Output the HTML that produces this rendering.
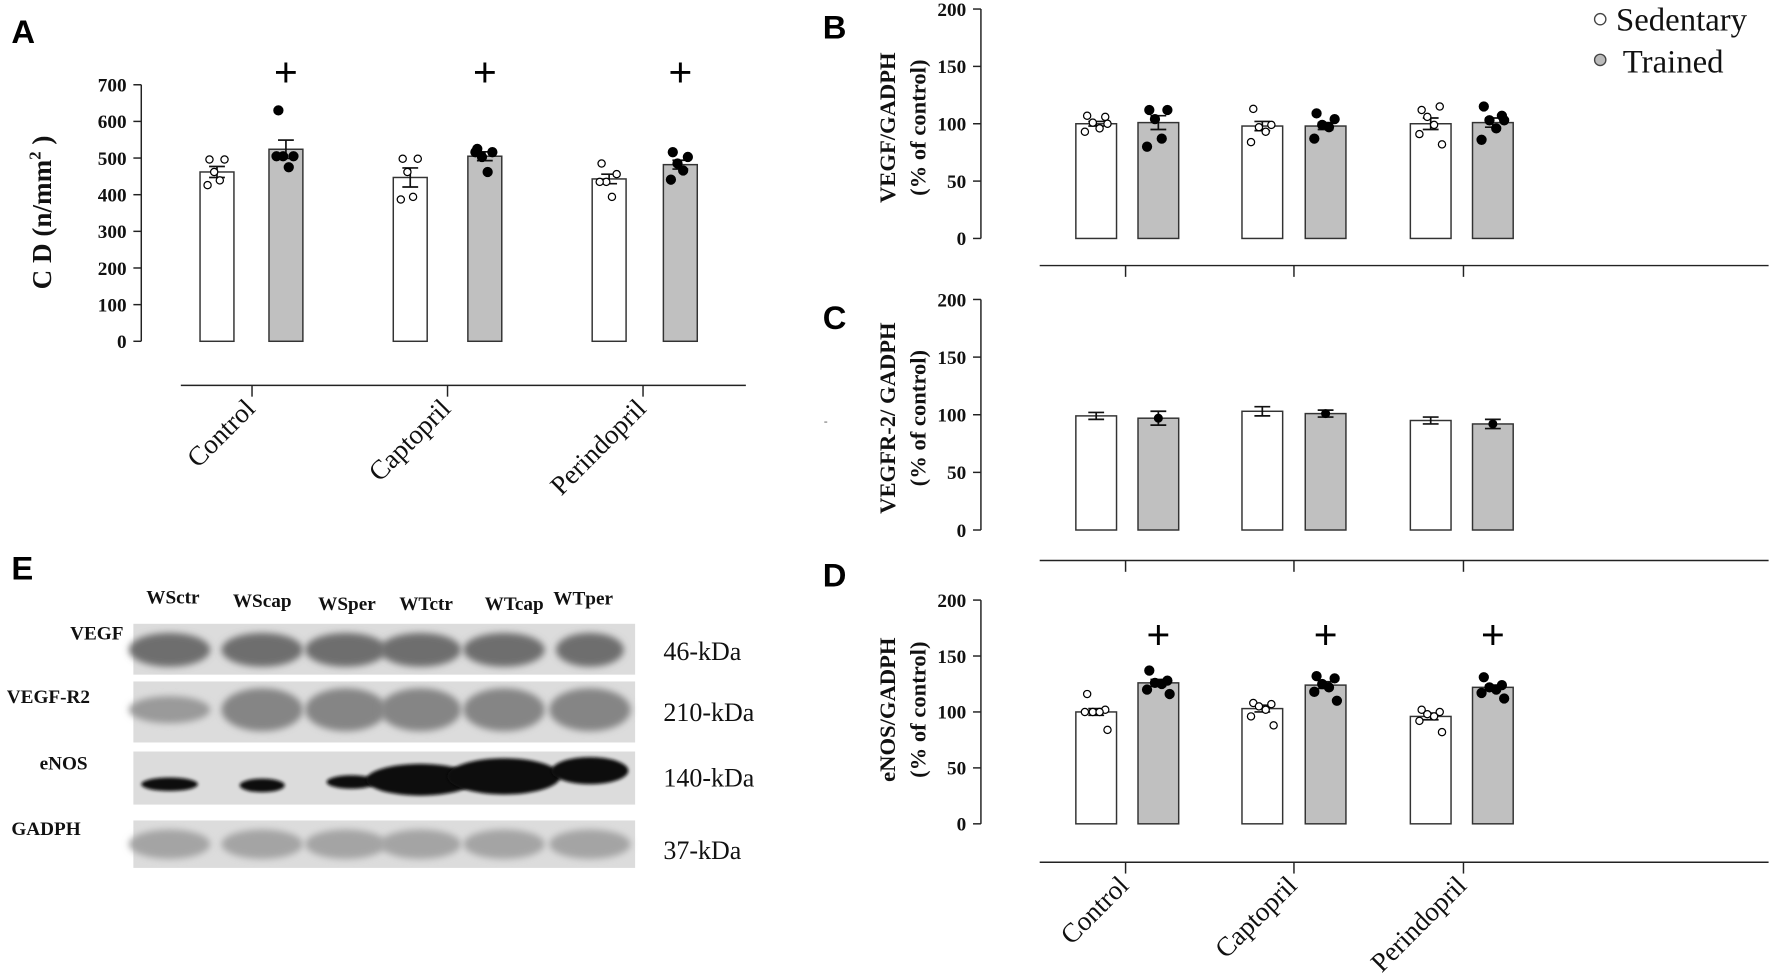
<!DOCTYPE html>
<html><head><meta charset="utf-8"><style>
html,body{margin:0;padding:0;background:#fff;}
svg{display:block;}
</style></head><body>
<svg id="fig" width="1772" height="973" viewBox="0 0 1568 861" xmlns="http://www.w3.org/2000/svg" font-family="Liberation Serif, serif">
<defs>
<filter id="blur2" x="-20%" y="-50%" width="140%" height="200%"><feGaussianBlur stdDeviation="3"/></filter>
<filter id="blur1" x="-20%" y="-50%" width="140%" height="200%"><feGaussianBlur stdDeviation="1.5"/></filter>
</defs>
<g id="root"></g>
</svg>
<script>
// ---------- DATA ----------
const categories = ["Control","Captopril","Perindopril"];
const aTicks = [0,100,200,300,400,500,600,700];
const bTicks = [0,50,100,150,200];
// Panel A (capillary density)
const aSedMean = [462,447,443];
const aSedSem = [15,26,13];
const aTrMean = [524,505,482];
const aTrSem = [25,12,12];
const aSedPts = [[496,496,462,439,426],[498,498,462,394,387],[485,456,435,394,435]];
const aTrPts = [[630,505,505,475,505],[525,516,503,462,516],[516,503,485,466,441]];
const aSig = [true,true,true];
// Panel B (VEGF)
const bSedMean = [100,98,100];
const bSedSem = [2,4,5];
const bTrMean = [101,98,101];
const bTrSem = [6,3,4];
const bSedPts = [[107,106,101,96,93,100],[113,99,97,93,84],[112,115,106,99,91,82]];
const bTrPts = [[112,112,104,87,80],[109,104,99,97,87],[115,107,103,96,86,103]];
// Panel C (VEGFR-2)
const cSedMean = [99,103,95];
const cSedSem = [3,4,3];
const cTrMean = [97,101,92];
const cTrSem = [6,3,4];
// Panel D (eNOS)
const dSedMean = [100,103,96];
const dSedSem = [3,3,3];
const dTrMean = [126,124,122];
const dTrSem = [3,3,2];
const dSedPts = [[116,102,100,100,100,84],[108,107,105,102,96,88],[102,100,98,96,92,82]];
const dTrPts = [[137,128,126,125,120,116],[132,130,125,122,118,110],[131,124,122,120,117,112]];
const dSig = [true,true,true];

// ---------- HELPERS ----------
const NS="http://www.w3.org/2000/svg";
const root=document.getElementById('root');
function mk(tag,attrs,parent){const e=document.createElementNS(NS,tag);for(const k in attrs)e.setAttribute(k,attrs[k]);(parent||root).appendChild(e);return e;}
function txt(s,attrs,parent){const e=mk('text',attrs,parent);e.textContent=s;return e;}

function panel(cfg){
  const g=mk('g',{});
  
  
  const y=v=>cfg.y0-(v-cfg.dmin)/(cfg.dmax-cfg.dmin)*(cfg.y0-cfg.y1);
  const ax=mk('line',{x1:cfg.ax,y1:y(cfg.dmax),x2:cfg.ax,y2:y(cfg.dmin),stroke:'#222','stroke-width':1.3},g);
  
  
  cfg.ticks.forEach(t=>{
    mk('line',{x1:cfg.ax-7,y1:y(t),x2:cfg.ax,y2:y(t),stroke:'#222','stroke-width':1.3},g);
    const tl=txt(String(t),{x:cfg.ax-13,y:y(t)+6,'text-anchor':'end','font-size':cfg.fs,'font-weight':'bold',fill:'#111'},g);
    
    
  });
  const w=cfg.bw;
  for(let i=0;i<categories.length;i++){
    [[cfg.sed,cfg.sedSem,cfg.sedPts,cfg.wx[i],'#fff',false],[cfg.tr,cfg.trSem,cfg.trPts,cfg.gx[i],'#c0c0c0',true]].forEach(([m,s,p,bx,fill,filled])=>{
      const b=mk('rect',{x:bx,y:y(m[i]),width:w,height:y(cfg.dmin)-y(m[i]),fill:fill,stroke:'#333','stroke-width':1.3},g);
      
      
      const cx=bx+w/2;
      mk('line',{x1:cx,y1:y(m[i]-s[i]),x2:cx,y2:y(m[i]+s[i]),stroke:'#111','stroke-width':1.5},g);
      mk('line',{x1:cx-7,y1:y(m[i]+s[i]),x2:cx+7,y2:y(m[i]+s[i]),stroke:'#111','stroke-width':1.5},g);
      mk('line',{x1:cx-7,y1:y(m[i]-s[i]),x2:cx+7,y2:y(m[i]-s[i]),stroke:'#111','stroke-width':1.5},g);
      if(p){
        const offs=[-8,8,-3,3,-10,10];
        p[i].forEach((v,k)=>{
          const c=mk('circle',{cx:cx+offs[k%offs.length]*(w/36),cy:y(v),r:filled?4:3.2,fill:filled?'#000':'#fff',stroke:'#000','stroke-width':1.1},g);
          
          
        });
      } else if(filled){
        const c=mk('circle',{cx:cx,cy:y(m[i]),r:4,fill:'#000'},g);
        
        
      }
    });
    if(cfg.sig&&cfg.sig[i]){
      const pl=txt('+',{x:cfg.gx[i]+w/2,y:cfg.plusY,'text-anchor':'middle','font-size':36,'font-family':'Liberation Sans, sans-serif',fill:'#000'},g);
      
      
    }
  }
  if(cfg.xl){
    const xl=mk('line',{x1:cfg.xl[0],y1:cfg.xly,x2:cfg.xl[1],y2:cfg.xly,stroke:'#222','stroke-width':1.3},g);
    
    
    cfg.xt.forEach((tx,i)=>{
      mk('line',{x1:tx,y1:cfg.xly,x2:tx,y2:cfg.xly+10,stroke:'#222','stroke-width':1.3},g);
      if(cfg.labels){
        const L=txt(categories[i],{x:tx+4,y:cfg.xly+22,'text-anchor':'end','font-size':24,fill:'#111',transform:`rotate(-45 ${tx+4} ${cfg.xly+22})`},g);
        
        
      }
    });
  }
  cfg.titles.forEach(([s,x])=>{
    const t=txt(s,{x:x,y:cfg.tcy,'text-anchor':'middle','font-size':cfg.tfs,'font-weight':'bold',fill:'#111',transform:`rotate(-90 ${x} ${cfg.tcy})`},g);
    
    
  });
  return g;
}

// Panel labels
[['A',10,38],['B',728,34],['C',728,291],['D',728,519],['E',10,513]].forEach(([s,x,yy])=>{
  const t=txt(s,{x:x,y:yy,'font-size':29,'font-weight':'bold','font-family':'Liberation Sans, sans-serif',fill:'#000'});
  
  
});

// Panel A
panel({name:'panel-a-chart',ax:125,y0:302,y1:75,dmin:0,dmax:700,ticks:aTicks,fs:17,bw:30,
  wx:[177,348,524],gx:[238,414,587],sed:aSedMean,sedSem:aSedSem,sedPts:aSedPts,tr:aTrMean,trSem:aTrSem,trPts:aTrPts,
  sig:aSig,plusY:76,xl:[160,660],xly:341,xt:[223,396,569],labels:true,titles:[],tcy:190,tfs:20});
const at=txt('',{x:45,y:188,'text-anchor':'middle','font-size':24,'font-weight':'bold',fill:'#111',transform:'rotate(-90 45 188)'});
at.innerHTML='C D (n/mm<tspan dy="-9" font-size="15">2</tspan><tspan dy="9"> )</tspan>';



const common={ax:868,dmin:0,dmax:200,ticks:bTicks,fs:17,bw:36,wx:[952,1099,1248],gx:[1007,1155,1303],tfs:20};
panel(Object.assign({},common,{name:'panel-b-chart',y0:211,y1:8,sed:bSedMean,sedSem:bSedSem,sedPts:bSedPts,tr:bTrMean,trSem:bTrSem,trPts:bTrPts,
  xl:[920,1565],xly:235,xt:[996,1145,1295],titles:[['VEGF/GADPH',792],['(% of control)',819]],tcy:113}));
panel(Object.assign({},common,{name:'panel-c-chart',y0:469,y1:265,sed:cSedMean,sedSem:cSedSem,sedPts:null,tr:cTrMean,trSem:cTrSem,trPts:null,
  xl:[920,1565],xly:496,xt:[996,1145,1295],titles:[['VEGFR-2/ GADPH',792],['(% of control)',819]],tcy:370}));
panel(Object.assign({},common,{name:'panel-d-chart',y0:729,y1:531,sed:dSedMean,sedSem:dSedSem,sedPts:dSedPts,tr:dTrMean,trSem:dTrSem,trPts:dTrPts,
  sig:dSig,plusY:574,xl:[920,1565],xly:763,xt:[996,1145,1295],labels:true,titles:[['eNOS/GADPH',792],['(% of control)',819]],tcy:628}));

// Legend
const lg=mk('g',{});


mk('circle',{cx:1416,cy:17,r:5,fill:'#fff',stroke:'#444','stroke-width':1.2},lg);
txt('Sedentary',{x:1430,y:27,'font-size':29,fill:'#111'},lg);
mk('circle',{cx:1416,cy:53,r:5,fill:'#bbb',stroke:'#444','stroke-width':1.2},lg);
txt('Trained',{x:1436,y:64,'font-size':29,fill:'#111'},lg);

// Panel E western blot
const ge=mk('g',{});


const lanes=['WSctr','WScap','WSper','WTctr','WTcap','WTper'];
const laneX=[153,232,307,377,455,516];
const laneY=[534,537,540,540,540,535];
lanes.forEach((s,i)=>{const t=txt(s,{x:laneX[i],y:laneY[i],'text-anchor':'middle','font-size':17,'font-weight':'bold',fill:'#111'},ge);
  });
const rows=[['VEGF',62,566,'46-kDa',584,552,597],['VEGF-R2',6,622,'210-kDa',638,603,657],['eNOS',35,681,'140-kDa',696,665,712],['GADPH',10,739,'37-kDa',760,726,768]];
rows.forEach(([n,lx,ly,k,ky,y1,y2])=>{
  const t=txt(n,{x:lx,y:ly,'font-size':17,'font-weight':'bold',fill:'#111'},ge);
  
  const kk=txt(k,{x:587,y:ky,'font-size':23,fill:'#111'},ge);
  
  const r=mk('rect',{x:118,y:y1,width:444,height:y2-y1,fill:'#dcdcdc'},ge);
  
});
const bandCx=[150,232,306,372,446,522];
bandCx.forEach((c,i)=>{mk('ellipse',{cx:c,cy:575,rx:i==5?30:36,ry:15,fill:'#6e6e6e',filter:'url(#blur2)'},ge);});
bandCx.forEach((c,i)=>{mk('ellipse',{cx:c,cy:628,rx:36,ry:i==0?12:19,fill:i==0?'#9a9a9a':'#858585',filter:'url(#blur2)'},ge);});
const eW=[25,20,22,48,50,34],eH=[6,6,6,14,16,12],eY=[694,695,692,690,687,682];
bandCx.forEach((c,i)=>{mk('ellipse',{cx:c+(i==2?5:0),cy:eY[i],rx:eW[i],ry:eH[i],fill:'#111',filter:'url(#blur1)'},ge);});
bandCx.forEach((c,i)=>{mk('ellipse',{cx:c,cy:747,rx:36,ry:13,fill:'#a4a4a4',filter:'url(#blur2)'},ge);});
txt('-',{x:729,y:376,'font-size':10,fill:'#555'});
</script>
</body></html>
